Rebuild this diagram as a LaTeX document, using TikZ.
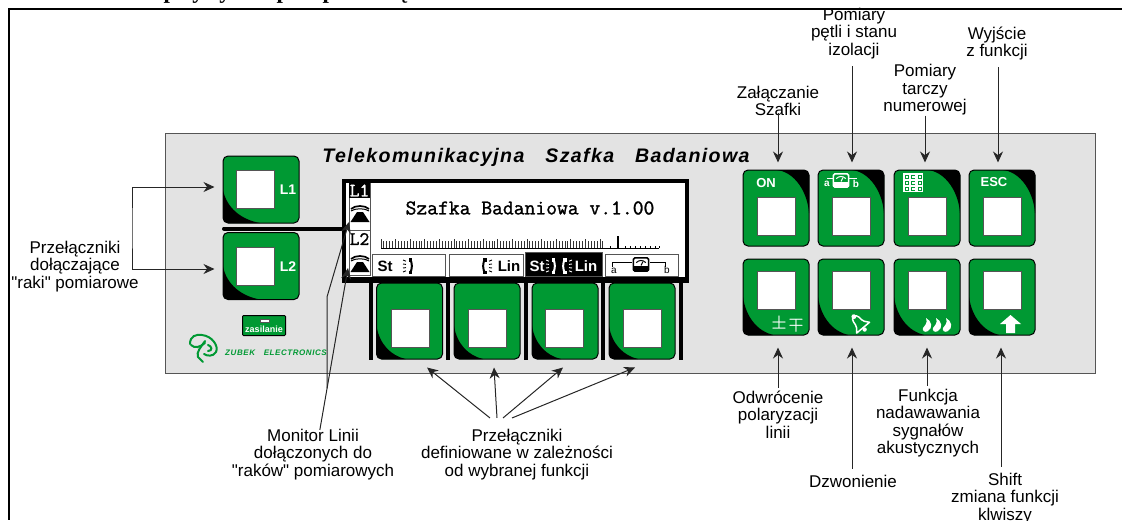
\documentclass[tikz,border=0pt]{standalone}
\usepackage{fontspec}
\usepackage{amsmath}
\setmainfont{Liberation Sans}
\newfontfamily\notefont{Liberation Sans}
\newfontfamily\panelfont[LetterSpace=7,ItalicFont=Liberation Sans Italic,BoldItalicFont=Liberation Sans Bold Italic]{Liberation Sans}
\newfontfamily\headfont{Liberation Serif}
\newfontfamily\lcdfont[FakeBold=1.3]{Latin Modern Mono}
\usetikzlibrary{positioning,arrows.meta}
\definecolor{keygreen}{HTML}{009933}
\definecolor{panelgray}{HTML}{E3E3E3}
\definecolor{edgegray}{HTML}{555555}

\tikzset{
note/.style={align=center,inner sep=0pt,font=\notefont\fontsize{17}{17.4}\selectfont,text=black},
arr/.style={-{Stealth[length=11pt,width=10pt]},line width=1pt,draw=black!85},
keybase/.style={draw=black,line width=1pt,fill=keygreen,rounded corners=5pt,minimum width=66pt,minimum height=76pt,inner sep=0pt},
keybig/.style={keybase,minimum width=76pt,minimum height=67pt},
cutll/.style 2 args={path picture={\fill[black,sharp corners] (path picture bounding box.south west) -- ++(0,-#1)
  .. controls +(.1*#2,.55*#1) and +(-.5*#2,-.1*#1) .. ++(#2,#1) -- cycle;}},
cutur/.style 2 args={path picture={\fill[black,sharp corners] (path picture bounding box.north east) -- ++(-#2,0)
  .. controls +(.55*#2,.05*#1) and +(-.05*#2,-.5*#1) .. ++(#2,#1) -- cycle;}},
hole/.style={draw=edgegray,line width=1pt,fill=white,minimum size=38pt,inner sep=0pt},
softbox/.style={draw=edgegray,line width=1pt,fill=white,minimum height=22pt,inner sep=0pt},
softtext/.style={inner sep=0pt,font=\fontsize{15}{15}\selectfont\bfseries},
keytext/.style={inner sep=0pt,text=white,font=\fontsize{13}{13}\selectfont\bfseries},
phone/.pic={
  \fill (-9.5,9) -- (-3,-1) -- (3,-1) -- (9.5,9) -- cycle;
  \draw[line width=1.7pt] (-9,-4) .. controls (-5,-8) and (5,-8) .. (9,-4);
  \draw[line width=1pt] (-9,-2) .. controls (-5,-5) and (5,-5) .. (9,-2);
},
handset/.pic={
  \draw[line width=2pt] (2,-7) .. controls (4.5,-3) and (4.5,3) .. (2,7);
  \fill (.5,-8) rectangle (4,-4.5);
  \fill (.5,4.5) rectangle (4,8);
  \foreach \ry in {-6,-2,2,6} {\draw[line width=.9pt] (-5,\ry) -- (-2,\ry*.8);}
},
meter/.pic={
  \draw[line width=1.6pt,rounded corners=1.5pt] (-8,-7) rectangle (8,7);
  \draw[line width=1pt] (-5,-2) .. controls (-2,-5) and (2,-5) .. (5,-2);
  \draw[line width=1pt] (0,1) -- (2,-3);
  \fill (-8,1.5) rectangle (8,7);
},
}

\begin{document}
\begin{tikzpicture}[x=1pt,y=-1pt,>=Stealth]
\useasboundingbox (0,0) rectangle (1122,520);

% heading cut off by the page edge
\foreach \i/\hx/\hletter in {1/170/p,2/198/y,3/225/y,4/283/p,5/329/p,6/403/ę}
  \node[inner sep=0pt,anchor=base,font=\headfont\fontsize{23}{23}\selectfont\bfseries] (head\i) at (\hx,-1.5) {\hletter};
\draw[line width=2pt] (1122,9) -- (9,9) -- (9,520);

% panel
\node[draw=edgegray,line width=1pt,fill=panelgray,minimum width=930pt,minimum height=240pt,inner sep=0pt] (panel) at (630.5,253) {};
\node[inner sep=0pt,font=\panelfont\fontsize{19.6}{19.6}\selectfont\bfseries\itshape] (title) at (536,157) {Telekomunikacyjna\hspace{14pt} Szafka\hspace{14pt} Badaniowa};

% L keys
\node[keybig,cutll={33}{37}] (keylone) at (261,189.5) {};
\node[keybig,cutll={33}{37}] (keyltwo) at (261,266) {};
\node[hole] (holelone) at (255,189.5) {};
\node[hole] (holeltwo) at (255,266.5) {};
\node[keytext,font=\fontsize{14}{14}\selectfont\bfseries] (textlone) at (288,190) {L1};
\node[keytext,font=\fontsize{14}{14}\selectfont\bfseries] (textltwo) at (288,267) {L2};
\draw[line width=4pt,line cap=round] (224,228.5) -- (345,228.5);

% badge and logo
\node[draw=black,line width=1pt,fill=keygreen,minimum width=43pt,minimum height=20pt,rounded corners=1pt,inner sep=0pt] (badge) at (264,325.5) {};
\node[inner sep=0pt,text=white,font=\fontsize{9}{9}\selectfont\bfseries] (badgetext) at (264,329) {zasilanie};
\fill[white,draw=edgegray,line width=.4pt] (260,319.5) rectangle (269,322.5);
\begin{scope}[keygreen,line width=2pt,line cap=round]
\draw (190,344) .. controls (190,336) and (196,334) .. (202,335) .. controls (212,336) and (219,346) .. (216,352) .. controls (213,357) and (207,356) .. (204,354);
\draw (191,345) .. controls (195,349) and (200,347) .. (205,343);
\draw (205,341) .. controls (201,347) and (196,352) .. (198,357) -- (203,362);
\draw (208,345) .. controls (212,346) and (213,351) .. (208,351);
\end{scope}
\node[inner sep=0pt,text=keygreen,font=\panelfont\fontsize{8}{8}\selectfont\bfseries\itshape] (logotext) at (276,353) {ZUBEK\hspace{6pt} ELECTRONICS};

% display
\node[draw=black,line width=4pt,fill=white,minimum width=343pt,minimum height=100.5pt,inner sep=0pt,anchor=north] (lcd) at (515.5,178.5) {};
\draw[edgegray,line width=.8pt] (349,183) rectangle (370,275);
\node[fill=black,text=white,minimum width=21pt,minimum height=15pt,inner sep=0pt,font=\lcdfont\fontsize{19}{19}\selectfont] (lineone) at (359.5,190.5) {L1};
\node[inner sep=0pt,font=\lcdfont\fontsize{19}{19}\selectfont] (linetwo) at (359.5,239) {L2};
\draw[edgegray,line width=.8pt] (349,230) -- (370,230);
\coordinate (phoneone) at (360,213);
\coordinate (phonetwo) at (360,263);
\pic at (phoneone) {phone};
\pic at (phonetwo) {phone};
\node[inner sep=0pt,font=\lcdfont\fontsize{21}{21}\selectfont] (lcdtext) at (530,208) {Szafka Badaniowa v.1.00};

% scale on the display
\foreach \i in {0,...,76} {
  \pgfmathsetmacro{\sx}{381+2.92*\i}
  \pgfmathsetmacro{\sy}{mod(\i,5)==0 ? 238.5 : 241}
  \draw[black!80,line width=.9pt] (\sx,248) -- (\sx,\sy);
}
\draw[black,line width=.9pt] (381,248) -- (659,248);
\foreach \sx in {610,625,630,635,640,645,650,655,659} \draw[black,line width=.8pt] (\sx,248) -- (\sx,245.5);
\draw[black,line width=2.4pt] (618,248) -- (618,236);

% soft key captions
\node[softbox,minimum width=73pt] (boxa) at (408.5,265) {};
\node[softbox,minimum width=74pt] (boxb) at (486,265) {};
\node[softbox,fill=black,minimum width=77pt,minimum height=24pt] (boxc) at (563.5,264.5) {};
\node[softbox,minimum width=73pt] (boxd) at (641.5,265) {};
\draw[line width=4pt] (344,279) -- (687,279);
\node[softtext] (texta) at (385,266.5) {St};
\pic at (408,266) {handset};
\pic[xscale=-1] at (487,266) {handset};
\node[softtext] (textb) at (509,266.5) {Lin};
\node[softtext,text=white] (textc) at (537,266.5) {St};
\pic[white] at (551,266) {handset};
\pic[white,xscale=-1] at (567,266) {handset};
\node[softtext,text=white] (textd) at (586,266.5) {Lin};
\draw[line width=1pt] (612,267) -- (612,262) -- (632,262) (650,262) -- (665,262) -- (665,267);
\pic[scale=.95] at (641,264.5) {meter};
\node[inner sep=0pt,font=\fontsize{10}{10}\selectfont] (lettera) at (614,271) {a};
\node[inner sep=0pt,font=\fontsize{10}{10}\selectfont] (letterb) at (667,270) {b};

% soft keys
\foreach \sx in {371,448,526,603,681} \draw[line width=4pt] (\sx,279) -- (\sx,360);
\foreach \kname/\kx/\hx in {keysa/409.5/410,keysb/487/487,keysc/565/564.5,keysd/642/642} {
  \node[keybase,cutll={33}{29}] (\kname) at (\kx,321) {};
  \node[hole] (hole\kname) at (\hx,328) {};
}

% right keys
\foreach \kname/\kx in {keyon/776,keyloop/851,keydial/927,keyesc/1002} {
  \node[keybase,cutur={43}{32}] (\kname) at (\kx,208) {};
  \node[hole] (hole\kname) at (\kx,216) {};
}
\foreach \kname/\kx in {keypol/776,keyring/851,keytone/927,keyshift/1002} {
  \node[keybase,cutll={38}{30}] (\kname) at (\kx,297) {};
  \node[hole] (hole\kname) at (\kx,290) {};
}

% key symbols
\node[keytext] (texton) at (766,183) {ON};
\node[keytext] (textesc) at (994,182) {ESC};
\draw[white,line width=1pt] (827,178) -- (833,178) (849,178) -- (857,178);
\pic[white,scale=.95] at (841,180.5) {meter};
\node[inner sep=0pt,text=white,font=\fontsize{10}{10}\selectfont\bfseries] (keya) at (827,184) {a};
\node[inner sep=0pt,text=white,font=\fontsize{10}{10}\selectfont\bfseries] (keyb) at (856,184) {b};
\foreach \gx in {0,1,2} \foreach \gy in {0,1,2} {
  \draw[white,line width=1.1pt] (904+6.5*\gx,174+6.3*\gy) rectangle +(5.5,5.3);
  \fill[white] (905.5+6.5*\gx,175.5+6.3*\gy) rectangle +(2.5,2.3);
}
\node[inner sep=0pt,text=white,font=\fontsize{16}{16}\selectfont\boldmath] (signa) at (779,324) {$\pm$};
\node[inner sep=0pt,text=white,font=\fontsize{16}{16}\selectfont\boldmath] (signb) at (796,324) {$\mp$};
\begin{scope}[shift={(860,324)},rotate=40,scale=1.2,white]
\draw[line width=1.5pt,line join=round] (-3,-5) .. controls (-3,-9) and (3,-9) .. (3,-5) .. controls (3,0) and (5,2) .. (7,4) -- (-7,4) .. controls (-5,2) and (-3,0) .. (-3,-5);
\fill (0,-8) circle (2pt);
\fill (0,6) circle (1.8pt);
\end{scope}
\foreach \nx in {3,13,23}
  \fill[white,xshift=\nx pt] (923,318) .. controls (929,321) and (930,328) .. (925,331) .. controls (922,333) and (919,331) .. (920,328) .. controls (921,325) and (925,325) .. (923,318) -- cycle;
\fill[white] (1010.5,315) -- (1021,324) -- (1015,324) -- (1015,333) -- (1006,333) -- (1006,324) -- (1000,324) -- cycle;

% labels
\node[note] (labon) at (778,101) {Załączanie\\Szafki};
\node[note] (labloop) at (854,33.5) {Pomiary\\pętli i stanu\\izolacji};
\node[note] (labdial) at (925,90) {Pomiary\\tarczy\\numerowej};
\node[note] (labesc) at (997,43.5) {Wyjście\\z funkcji};
\node[note] (labpol) at (778,414.5) {Odwrócenie\\polaryzacji\\linii};
\node[note] (labtone) at (928,423) {Funkcja\\nadawawania\\sygnałów\\akustycznych};
\node[note] (labring) at (853,481) {Dzwonienie};
\node[note] (labshift) at (1005,498.5) {Shift\\zmiana funkcji\\klwiszy};
\node[note] (labsw) at (75,266.5) {Przełączniki\\dołączające\\"raki" pomiarowe};
\node[note] (labmon) at (313,454.5) {Monitor Linii\\dołączonych do\\"raków" pomiarowych};
\node[note] (labsoft) at (517,454.5) {Przełączniki\\definiowane w zależności\\od wybranej funkcji};

% arrows
\draw[arr,shorten <=-3pt,shorten >=7pt] (labon.south) -- (labon.south |- keyon.north);
\draw[arr,shorten <=7pt,shorten >=7pt] ([xshift=-2pt]labloop.south) -- ([xshift=-2pt]labloop.south |- keyloop.north);
\draw[arr,shorten >=7pt] (labdial.south) -- (labdial.south |- keydial.north);
\draw[arr,shorten <=7pt,shorten >=7pt] ([xshift=1pt]labesc.south) -- ([xshift=1pt]labesc.south |- keyesc.north);
\draw[arr,shorten <=3pt,shorten >=12pt] (labpol.north) -- (labpol.north |- keypol.south);
\draw[arr,shorten <=6pt,shorten >=12pt] ([xshift=-1pt]labring.north) -- ([xshift=-1pt]labring.north |- keyring.south);
\draw[arr,shorten <=3pt,shorten >=12pt] ([xshift=-1pt]labtone.north) -- ([xshift=-1pt]labtone.north |- keytone.south);
\draw[arr,shorten <=6pt,shorten >=12pt] ([xshift=-4pt]labshift.north) -- ([xshift=-4pt]labshift.north |- keyshift.south);

\coordinate (bracket) at (132,228);
\draw[arr,{Stealth[length=11pt,width=10pt]}-{Stealth[length=11pt,width=10pt]}] ([shift={(-8pt,2.5pt)}]keylone.west) -| (bracket) |- ([shift={(-8pt,-3pt)}]keyltwo.west);

\coordinate (monfoot) at (327,388);
\coordinate (monknee) at (327,297);
\draw[arr] (monfoot) -- (monknee) -- ([shift={(-11pt,-9pt)}]phoneone);
\draw[arr,shorten <=-1pt] ([xshift=7pt]labmon.north) -- ([shift={(-12pt,-5pt)}]phonetwo);

\draw[arr] ([shift={(-27pt,11pt)}]labsoft.north) -- ([shift={(17.5pt,-8pt)}]keysa.south);
\draw[arr] ([shift={(-20pt,11pt)}]labsoft.north) -- ([shift={(7pt,-8pt)}]keysb.south);
\draw[arr] ([shift={(-14pt,11pt)}]labsoft.north) -- ([shift={(-2pt,-8pt)}]keysc.south);
\draw[arr] ([shift={(-5pt,11pt)}]labsoft.north) -- ([shift={(-7pt,-8pt)}]keysd.south);
\end{tikzpicture}
\end{document}
